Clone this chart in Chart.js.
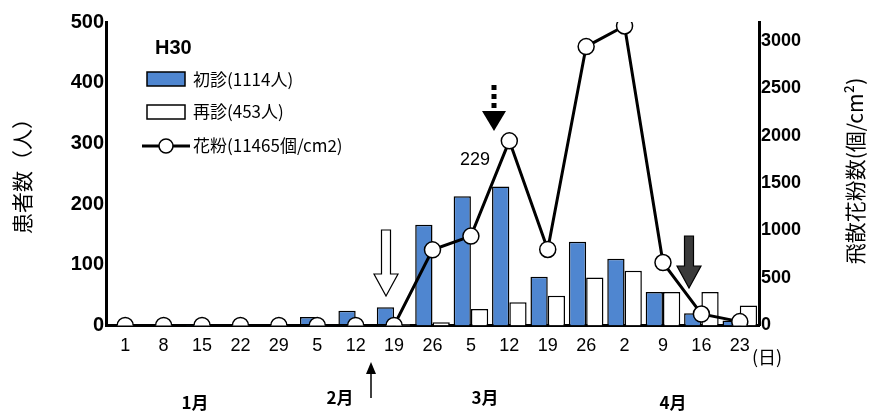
<!DOCTYPE html><html><head><meta charset="utf-8"><script src="https://cdn.jsdelivr.net/npm/chart.js@4"></script>
<style>body{margin:0;background:#fff}#w{width:876px;height:417px}</style></head><body><div id="w"><canvas id="c"></canvas></div>
<script>
const categories=['1','8','15','22','29','5','12','19','26','5','12','19','26','2','9','16','23'];
const firstVisit=[0,0,1,0,0,14,24,30,166,213,229,80,138,110,55,20,8];
const revisit=[0,0,0,0,0,0,0,2,5,27,38,49,79,90,55,55,33];
const pollen=[0,0,0,0,0,0,0,0,796,941,1944,800,2937,3154,662,120,40];
const F='"Liberation Sans", Arial, sans-serif';
const J='"Noto Sans CJK JP", sans-serif';
const deco={id:'deco',afterDraw(ch){
 const c=ch.ctx;
 c.save();
 c.fillStyle='#000';c.font='bold 20px '+F;c.textBaseline='middle';c.fillText('H30',155,48);
 c.font='17px '+J;
 c.fillStyle='#4f86d0';c.strokeStyle='#000';c.lineWidth=1.5;c.fillRect(147,72,38,14);c.strokeRect(147,72,38,14);
 c.fillStyle='#000';c.fillText('初診(1114人)',193,80);
 c.fillStyle='#fff';c.fillRect(147,105,38,14);c.strokeRect(147,105,38,14);
 c.fillStyle='#000';c.fillText('再診(453人)',193,112);
 c.lineWidth=3;c.beginPath();c.moveTo(142,146);c.lineTo(190,146);c.stroke();
 c.fillStyle='#fff';c.lineWidth=1.5;c.beginPath();c.arc(166,146,7,0,7);c.fill();c.stroke();
 c.fillStyle='#000';c.fillText('花粉(11465個/cm2)',193,146);
 c.font='18px '+F;c.textAlign='center';c.fillText('229',475,160);
 c.font='18px '+J;c.textAlign='left';c.fillText('(日)',752,357);
 c.textAlign='center';c.font='bold 17px '+J;
 [['1月',195,403],['2月',340,398],['3月',485,398],['4月',673,403]].forEach(m=>c.fillText(m[0],m[1],m[2]));
 // axis titles
 c.font='21px '+J;
 c.save();c.translate(22,171);c.rotate(-Math.PI/2);c.fillText('患者数（人）',0,0);c.restore();
 c.save();c.translate(855,171);c.rotate(-Math.PI/2);c.fillText('飛散花粉数(個/cm²)',0,0);c.restore();
 function arrow(cx,top,bot,style){
  const sw=9,hw=12,hh=22;
  c.beginPath();c.moveTo(cx-sw/2,top);c.lineTo(cx+sw/2,top);c.lineTo(cx+sw/2,bot-hh);c.lineTo(cx+hw,bot-hh);c.lineTo(cx,bot);c.lineTo(cx-hw,bot-hh);c.lineTo(cx-sw/2,bot-hh);c.closePath();
  c.fillStyle=style;c.fill();c.strokeStyle='#000';c.lineWidth=1.2;c.stroke();
 }
 arrow(386,230,296,'#fff');
 arrow(689,236,288,'#3a3a3a');
 c.strokeStyle='#000';c.lineWidth=5;c.setLineDash([5,4]);c.beginPath();c.moveTo(494,85);c.lineTo(494,112);c.stroke();c.setLineDash([]);
 c.fillStyle='#000';c.beginPath();c.moveTo(482,111);c.lineTo(506,111);c.lineTo(494,131);c.closePath();c.fill();
 c.lineWidth=1.5;c.beginPath();c.moveTo(371,398);c.lineTo(371,372);c.stroke();
 c.beginPath();c.moveTo(366,374);c.lineTo(376,374);c.lineTo(371,362);c.closePath();c.fill();
 c.restore();
}};
new Chart(document.getElementById('c'),{
 data:{labels:categories,datasets:[
  {type:'line',data:pollen,yAxisID:'y2',borderColor:'#000',borderWidth:3,pointRadius:8,pointBackgroundColor:'#fff',pointBorderColor:'#000',pointBorderWidth:1.5,tension:0,order:0},
  {type:'bar',data:firstVisit,backgroundColor:'#4f86d0',borderColor:'#000',borderWidth:1.5,categoryPercentage:0.9,barPercentage:1,order:1},
  {type:'bar',data:revisit,backgroundColor:'#fff',borderColor:'#000',borderWidth:1.5,categoryPercentage:0.9,barPercentage:1,order:2}
 ]},
 plugins:[deco],
 options:{responsive:true,maintainAspectRatio:false,animation:false,
  layout:{padding:{top:17,bottom:50,left:0,right:0}},
  plugins:{legend:{display:false},tooltip:{enabled:false}},
  scales:{
   x:{grid:{display:false,drawTicks:false},border:{color:'#000',width:3},ticks:{color:'#000',font:{size:18,family:F},padding:10,maxRotation:0,autoSkip:false}},
   y:{min:0,max:500,afterFit(s){s.width=106},ticks:{stepSize:100,color:'#000',font:{size:20,family:F,weight:'bold'},padding:10},grid:{display:false,tickLength:-8,tickColor:'#000',tickWidth:3},border:{color:'#000',width:3}},
   y2:{position:'right',min:0,max:3196,afterFit(s){s.width=117},afterBuildTicks(s){s.ticks=[0,500,1000,1500,2000,2500,3000].map(v=>({value:v}))},ticks:{color:'#000',font:{size:18,family:F,weight:'bold'},padding:10,callback:v=>String(v)},grid:{display:false,tickLength:-8,tickColor:'#000',tickWidth:3},border:{color:'#000',width:3}}
  }}
});
</script></body></html>
